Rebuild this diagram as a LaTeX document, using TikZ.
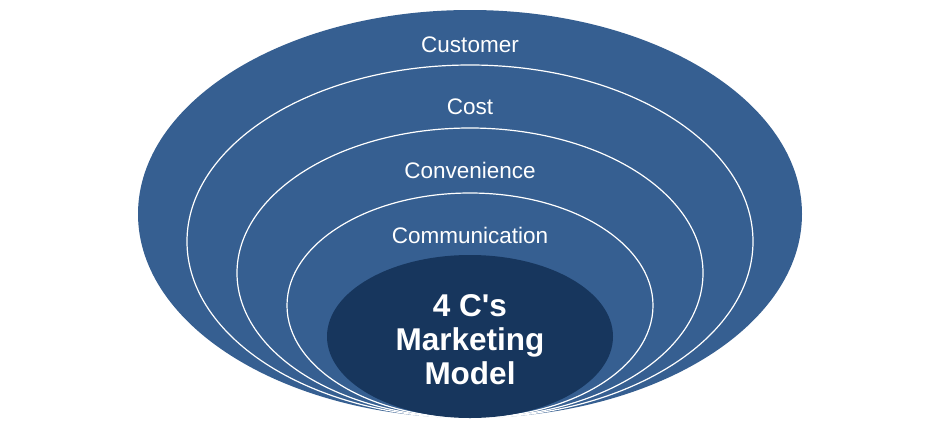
\documentclass[tikz,border=0pt]{standalone}
\usepackage{fontspec}
\setmainfont{Liberation Sans}
\definecolor{ringblue}{RGB}{54,95,145}
\definecolor{coreblue}{RGB}{23,54,93}
\tikzset{
	ring/.style={fill=ringblue, draw=white, line width=1.2pt},
	layer/.style={text=white, font=\fontsize{22.5}{26}\selectfont},
	core/.style={text=white, align=center, font=\bfseries\fontsize{31.5}{34}\selectfont}
}

\begin{document}
\begin{tikzpicture}[x=1pt, y=-1pt]
		\useasboundingbox (0,0) rectangle (940,426);
		\fill[ringblue] (470,214) ellipse [x radius=332, y radius=204];
		\filldraw[ring] (470,241.5) ellipse [x radius=283, y radius=176.5];
		\filldraw[ring] (470,273) ellipse [x radius=233, y radius=145];
		\filldraw[ring] (470,305.5) ellipse [x radius=183, y radius=112.5];
		\fill[coreblue] (470,336.5) ellipse [x radius=143, y radius=81.5];
		\node[layer] (customer) at (470,45) {Customer};
		\node[layer] (cost) at (470,107) {Cost};
		\node[layer] (convenience) at (470,170) {Convenience};
		\node[layer] (communication) at (470,235) {Communication};
		\node[core] (model) at (470,340) {4 C\textquotesingle s\\Marketing\\Model};
	\end{tikzpicture}
\end{document}
